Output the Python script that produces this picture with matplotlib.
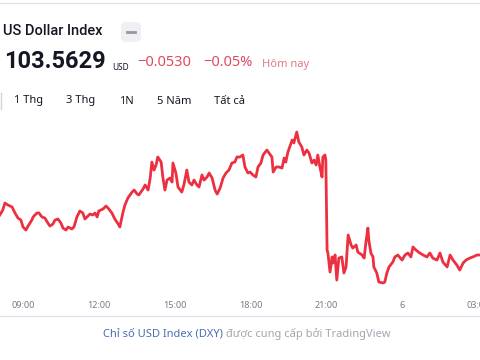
import matplotlib
matplotlib.use("Agg")
import matplotlib.pyplot as plt
from matplotlib.patches import FancyBboxPatch
from matplotlib.lines import Line2D

# ---------------- data ----------------
title = "US Dollar Index"
last_price = "103.5629"
currency = "USD"
change_abs = "\u22120.0530"
change_pct = "\u22120.05%"
period_label = "Hôm nay"
tabs = ["1 Thg", "3 Thg", "1N", "5 Năm", "Tất cả"]
tick_hours = [9, 12, 15, 18, 21, 24, 27]
tick_labels = ["09:00", "12:00", "15:00", "18:00", "21:00", "6", "03:00"]
footer_link = "Chỉ số USD Index (DXY)"
footer_rest = " được cung cấp bởi TradingView"

times = [
    "08:05", "08:12", "08:17", "08:24", "08:34", "08:41", "08:48", "08:55", "09:00", "09:07",
    "09:12", "09:21", "09:24", "09:33", "09:38", "09:45", "09:52", "09:59", "10:04", "10:11",
    "10:16", "10:23", "10:30", "10:35", "10:42", "10:47", "10:56", "11:01", "11:08", "11:15",
    "11:22", "11:27", "11:32", "11:39", "11:46", "11:51", "11:56", "12:00", "12:10", "12:17",
    "12:22", "12:31", "12:38", "12:46", "12:50", "12:57", "13:02", "13:09", "13:19", "13:24",
    "13:31", "13:35", "13:45", "13:50", "13:57", "14:02", "14:06", "14:11", "14:16", "14:20",
    "14:28", "14:32", "14:37", "14:42", "14:49", "14:54", "14:56", "15:03", "15:08", "15:17",
    "15:22", "15:29", "15:34", "15:41", "15:46", "15:53", "15:58", "16:05", "16:10", "16:17",
    "16:22", "16:29", "16:36", "16:41", "16:48", "16:55", "17:02", "17:09", "17:16", "17:23",
    "17:28", "17:35", "17:42", "17:47", "17:54", "17:59", "18:06", "18:13", "18:18", "18:25",
    "18:30", "18:39", "18:44", "18:51", "18:54", "19:01", "19:08", "19:15", "19:20", "19:24",
    "19:29", "19:39", "19:43", "19:50", "19:55", "20:02", "20:07", "20:14", "20:19", "20:26",
    "20:31", "20:36", "20:40", "20:45", "20:50", "20:52", "20:57", "20:59", "21:02", "21:04",
    "21:09", "21:14", "21:16", "21:21", "21:25", "21:30", "21:37", "21:42", "21:47", "21:52",
    "21:59", "22:03", "22:11", "22:15", "22:25", "22:30", "22:34", "22:39", "22:41", "22:46",
    "22:51", "22:53", "23:00", "23:05", "23:15", "23:19", "23:24", "23:29", "23:38", "23:43",
    "23:50", "00:00", "00:07", "00:14", "00:21", "00:26", "00:33", "00:42", "00:50", "00:59",
    "01:06", "01:13", "01:23", "01:30", "01:37", "01:47", "01:54", "02:01", "02:10", "02:17",
    "02:25", "02:32", "02:41", "02:48", "02:58", "03:05",
]
prices = [
    103.863, 103.900, 103.953, 103.938, 103.923, 103.878, 103.840, 103.825, 103.773, 103.750,
    103.780, 103.825, 103.848, 103.878, 103.878, 103.848, 103.840, 103.803, 103.780, 103.795,
    103.825, 103.833, 103.803, 103.765, 103.750, 103.773, 103.758, 103.773, 103.848, 103.893,
    103.878, 103.833, 103.848, 103.870, 103.863, 103.878, 103.848, 103.893, 103.908, 103.930,
    103.915, 103.878, 103.833, 103.795, 103.773, 103.878, 103.938, 103.990, 104.035, 104.050,
    104.020, 104.013, 104.058, 104.088, 104.050, 104.140, 104.260, 104.200, 104.238, 104.298,
    104.260, 104.148, 104.050, 104.125, 104.140, 104.110, 104.253, 104.178, 104.073, 104.035,
    104.088, 104.200, 104.110, 104.088, 104.125, 104.088, 104.073, 104.163, 104.125, 104.148,
    104.178, 104.140, 104.050, 104.020, 104.065, 104.140, 104.178, 104.200, 104.253, 104.260,
    104.298, 104.298, 104.313, 104.223, 104.178, 104.185, 104.163, 104.148, 104.223, 104.253,
    104.313, 104.350, 104.328, 104.298, 104.185, 104.223, 104.223, 104.215, 104.290, 104.260,
    104.335, 104.425, 104.403, 104.485, 104.410, 104.373, 104.313, 104.350, 104.328, 104.253,
    104.275, 104.238, 104.313, 104.223, 104.148, 104.298, 104.313, 104.275, 103.600, 103.578,
    103.435, 103.548, 103.503, 103.563, 103.375, 103.540, 103.548, 103.428, 103.473, 103.713,
    103.638, 103.615, 103.638, 103.585, 103.563, 103.540, 103.653, 103.765, 103.675, 103.578,
    103.548, 103.473, 103.428, 103.360, 103.353, 103.360, 103.428, 103.473, 103.510, 103.548,
    103.563, 103.525, 103.563, 103.578, 103.548, 103.623, 103.600, 103.578, 103.563, 103.548,
    103.578, 103.540, 103.525, 103.578, 103.510, 103.473, 103.563, 103.525, 103.488, 103.450,
    103.503, 103.525, 103.540, 103.548, 103.563, 103.563,
]


def to_hours(t):
    h, m = map(int, t.split(":"))
    h = h + 24 if h < 8 else h
    return h + m / 60.0


hours = [to_hours(t) for t in times]

# ---------------- figure ----------------
W, H = 480, 360
fig = plt.figure(figsize=(4.8, 3.6), dpi=100)
fig.patch.set_facecolor("white")
FONT = ["Noto Sans", "DejaVu Sans"]
BOLD_FONT = ["Roboto", "DejaVu Sans"]


def fx(px):
    return px / W


def fy(py):
    return 1 - py / H


# top thin separator
fig.add_artist(Line2D([0, 1], [fy(3), fy(3)], color="#e0e3eb", lw=1))

# title
fig.text(fx(3), fy(31), title, fontsize=10.5, color="#131722", fontweight="medium",
         family=BOLD_FONT, va="center", ha="left")
# gray rounded button with dash
btn = FancyBboxPatch((fx(121), fy(42)), fx(20), 20 / H,
                     boxstyle="round,pad=0,rounding_size=0.012",
                     transform=fig.transFigure, facecolor="#eef0f3", edgecolor="none")
fig.add_artist(btn)
fig.add_artist(Line2D([fx(127), fx(135)], [fy(32), fy(32)], color="#9598a1", lw=2))

# price row
fig.text(fx(4), fy(61), last_price, fontsize=17, color="#131722", fontweight="bold",
         family=BOLD_FONT, va="center", ha="left")
fig.text(fx(112), fy(68), currency, fontsize=6, color="#131722", family=FONT,
         va="center", ha="left")
fig.text(fx(137), fy(63), change_abs, fontsize=10.5, color="#e04a5f", family=FONT,
         va="center", ha="left")
fig.text(fx(203), fy(63), change_pct, fontsize=10.5, color="#e04a5f", family=FONT,
         va="center", ha="left")
fig.text(fx(262), fy(65), period_label, fontsize=8, color="#e07a88", family=FONT,
         va="center", ha="left")

# tabs
fig.add_artist(Line2D([fx(1), fx(1)], [fy(93), fy(109)], color="#d1d4dc", lw=1))
tab_x = [14, 66, 119, 157, 214]
for tx, lab in zip(tab_x, tabs):
    fig.text(fx(tx), fy(101), lab, fontsize=8, color="#131722", family=FONT,
             va="center", ha="left")

# chart axes: pixel rows 110..295
top_px, bot_px = 110, 295
ax = fig.add_axes([0, fy(bot_px), 1, (bot_px - top_px) / H])
ax.plot(hours, prices, color="#ec3040", lw=2.0, solid_joinstyle="round")
p_end = 103.5629
scale = 0.0075
ax.set_ylim(p_end + (255 - bot_px) * scale, p_end + (255 - top_px) * scale)
ax.set_xlim(9 - 23 / 25.27, 9 + (480 - 23) / 25.27)
for s in ax.spines.values():
    s.set_visible(False)
ax.set_yticks([])
ax.set_xticks(tick_hours)
ax.set_xticklabels(tick_labels, family=FONT)
ax.tick_params(axis="x", length=0, pad=4, labelsize=6.5, labelcolor="#787b86")
ax.set_facecolor("none")

# bottom separator
fig.add_artist(Line2D([0, 1], [fy(316), fy(316)], color="#e0e3eb", lw=1))

# footer
t1 = fig.text(fx(103), fy(334), footer_link, fontsize=8, color="#4a6fb0",
              fontweight="semibold", family=FONT, va="center", ha="left")
fig.canvas.draw()
bb = t1.get_window_extent()
fig.text(bb.x1 / W, fy(334), footer_rest, fontsize=8, color="#a3a6af",
         family=FONT, va="center", ha="left")

fig.savefig("out.png", dpi=100, facecolor="white")
